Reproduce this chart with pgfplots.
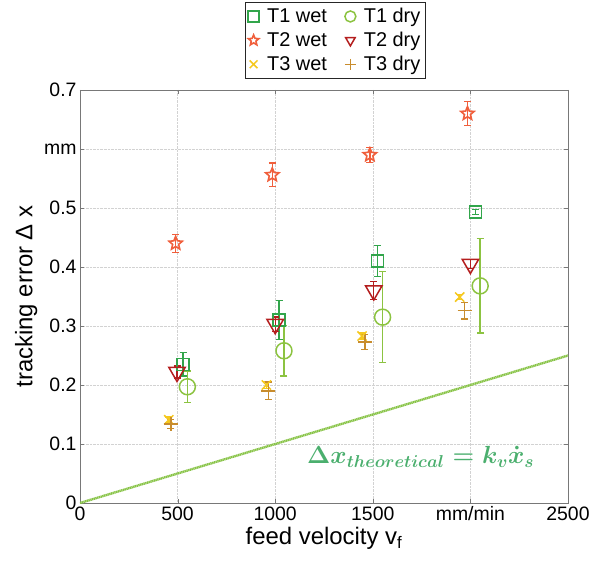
\documentclass[border=0pt]{standalone}
\usepackage{pgfplots}
\pgfplotsset{compat=1.18}
\usepackage{fontspec}
\setmainfont{Liberation Sans}

\definecolor{tonewet}{RGB}{50,165,75}
\definecolor{tonedry}{RGB}{140,195,65}
\definecolor{ttwowet}{RGB}{240,95,60}
\definecolor{ttwodry}{RGB}{180,30,30}
\definecolor{tthreewet}{RGB}{245,200,30}
\definecolor{tthreedry}{RGB}{200,140,45}
\definecolor{theoline}{RGB}{135,195,70}
\definecolor{theotext}{RGB}{75,175,110}
\definecolor{axgray}{RGB}{120,120,120}

% outlined five-pointed star
\pgfdeclareplotmark{ostar}{%
  \pgfpathmoveto{\pgfpointpolar{90}{\pgfplotmarksize}}%
  \pgfpathlineto{\pgfpointpolar{126}{0.45\pgfplotmarksize}}%
  \pgfpathlineto{\pgfpointpolar{162}{\pgfplotmarksize}}%
  \pgfpathlineto{\pgfpointpolar{198}{0.45\pgfplotmarksize}}%
  \pgfpathlineto{\pgfpointpolar{234}{\pgfplotmarksize}}%
  \pgfpathlineto{\pgfpointpolar{270}{0.45\pgfplotmarksize}}%
  \pgfpathlineto{\pgfpointpolar{306}{\pgfplotmarksize}}%
  \pgfpathlineto{\pgfpointpolar{342}{0.45\pgfplotmarksize}}%
  \pgfpathlineto{\pgfpointpolar{18}{\pgfplotmarksize}}%
  \pgfpathlineto{\pgfpointpolar{54}{0.45\pgfplotmarksize}}%
  \pgfpathclose\pgfusepathqstroke}

\begin{document}
\begin{tikzpicture}
\begin{axis}[
  scale only axis,
  width=488bp, height=413bp,
  xmin=0, xmax=2500, ymin=0, ymax=0.7,
  xtick={0,500,1000,1500,2000,2500},
  xticklabels={0,500,1000,1500,mm/min,2500},
  ytick={0,0.1,0.2,0.3,0.4,0.5,0.6,0.7},
  yticklabels={0,0.1,0.2,0.3,0.4,0.5,mm,0.7},
  ticklabel style={font=\fontsize{19.5}{21}\selectfont},
  xlabel={feed velocity v\textsubscript{f}},
  ylabel={tracking error Δ x},
  label style={font=\fontsize{24}{26}\selectfont},
  axis line style={draw=axgray, line width=1pt},
  tick style={draw=axgray},
  tick align=inside,
  major tick length=4bp,
  grid=major,
  grid style={densely dotted, gray!35},
  legend columns=2,
  legend style={at={(0.523,1)}, anchor=north, yshift=88bp,
    font=\fontsize{20}{22}\selectfont, draw=black!85, line width=1pt,
    nodes={inner ysep=4bp},
    /tikz/every odd column/.append style={column sep=6bp},
    /tikz/every even column/.append style={column sep=16bp}},
  legend image post style={mark size=5.5bp},
  legend cell align=left,
  error bars/error mark options={rotate=90, mark size=3.5bp, line width=1.4pt},
  error bars/error bar style={line width=1.4pt},
]
\addplot[draw=theoline, line width=2.4pt, dash pattern=on 1.3pt off 0.5pt, forget plot]
  coordinates {(0,0) (2500,0.25)};

\addplot[only marks, color=tonewet, mark=square, mark size=6bp, line width=1.5pt,
  error bars/.cd, y dir=both, y explicit]
  coordinates {(528,0.235) +- (0,0.02) (1020,0.31) +- (0,0.033)
               (1525,0.41) +- (0,0.026) (2025,0.493) +- (0,0.004)};
\addlegendentry{T1 wet}
\addplot[only marks, color=tonedry, mark=o, mark size=8bp, line width=1.5pt,
  error bars/.cd, y dir=both, y explicit]
  coordinates {(550,0.197) +- (0,0.027) (1045,0.258) +- (0,0.043)
               (1550,0.315) +- (0,0.077) (2050,0.368) +- (0,0.08)};
\addlegendentry{T1 dry}
\addplot[only marks, color=ttwowet, mark=ostar, mark size=7bp, line width=1.6pt,
  error bars/.cd, y dir=both, y explicit]
  coordinates {(490,0.44) +- (0,0.015) (985,0.556) +- (0,0.02)
               (1485,0.59) +- (0,0.013) (1985,0.66) +- (0,0.02)};
\addlegendentry{T2 wet}
\addplot[only marks, color=ttwodry, mark=triangle, mark options={rotate=180}, mark size=9.5bp, line width=1.5pt,
  error bars/.cd, y dir=both, y explicit]
  coordinates {(497,0.222) +- (0,0.01) (1000,0.303) +- (0,0.012)
               (1505,0.36) +- (0,0.015) (2000,0.405) +- (0,0.008)};
\addlegendentry{T2 dry}
\addplot[only marks, color=tthreewet, mark=x, mark size=6.5bp, line width=1.5pt,
  error bars/.cd, y dir=both, y explicit]
  coordinates {(455,0.141) +- (0,0.005) (955,0.2) +- (0,0.006)
               (1445,0.283) +- (0,0.005) (1945,0.349) +- (0,0.004)};
\addlegendentry{T3 wet}
\addplot[only marks, color=tthreedry, mark=+, mark size=7bp, line width=1.5pt,
  error bars/.cd, y dir=both, y explicit]
  coordinates {(465,0.134) +- (0,0.008) (965,0.19) +- (0,0.015)
               (1460,0.273) +- (0,0.013) (1970,0.326) +- (0,0.014)};
\addlegendentry{T3 dry}

\coordinate (theolab) at (axis cs:1745,0.078);
\coordinate (bbsw) at (rel axis cs:0,0);
\coordinate (bbne) at (rel axis cs:1,1);
\end{axis}
\node[text=theotext, font=\fontsize{25}{27}\selectfont] at (theolab) {{\boldmath$\Delta x_{theoretical} = k_v\dot{x}_s$}};
\pgfresetboundingbox
\path[use as bounding box] ([shift={(-80bp,-61bp)}]bbsw) rectangle ([shift={(35bp,90bp)}]bbne);
\end{tikzpicture}
\end{document}
